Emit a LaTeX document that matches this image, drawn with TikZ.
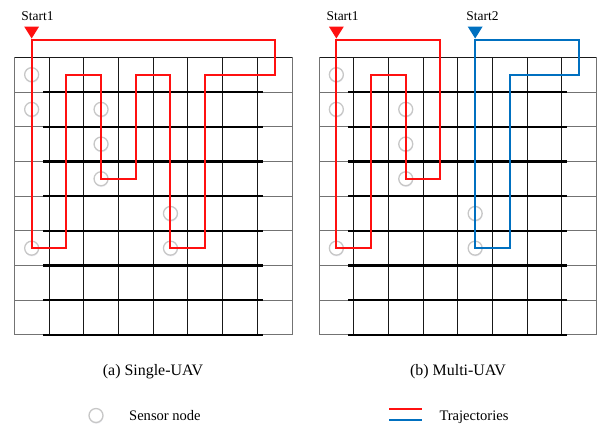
\documentclass[tikz,border=0pt]{standalone}
\usepackage{fontspec}
\setmainfont{Liberation Serif}
\usetikzlibrary{shadows}
\definecolor{uavred}{RGB}{255,16,16}
\definecolor{uavblue}{RGB}{0,112,192}
\begin{document}
\begin{tikzpicture}[x=1bp,y=-1bp,
  gridouter/.style={line width=1bp, black!55},
  gridinner/.style={line width=0.9bp, black!90},
  gridbold/.style={line width=2.4bp, black},
  sensor/.style={circle, draw=black!22, line width=1.3bp, fill=white,
    minimum size=14bp, inner sep=0pt,
    drop shadow={shadow xshift=0.3bp, shadow yshift=-1.3bp, opacity=0.18, fill=blue!30!black!40}},
  redtraj/.style={draw=uavred, line width=2bp},
  bluetraj/.style={draw=uavblue, line width=2bp},
  starttxt/.style={anchor=base west, inner sep=0pt, font=\fontsize{13.5}{15}\selectfont},
  captxt/.style={anchor=base, inner sep=0pt, font=\fontsize{16}{18}\selectfont},
  legtxt/.style={anchor=base west, inner sep=0pt, font=\fontsize{14.6}{17}\selectfont}]
\useasboundingbox (0,0) rectangle (599,425);

% two 8x8 grids with sensor nodes
\foreach \p/\ox in {a/0,b/304.7}{
  \begin{scope}[xshift=\ox bp]
    % thin full-width horizontal lines
    \foreach \r in {1,...,8}
      \draw[gridouter] (14.3,{57.3+34.7*\r}) -- (292,{57.3+34.7*\r});
    \draw[gridinner] (14.3,57.3) -- (292,57.3);
    % vertical lines
    \draw[gridouter] (14.3,57.3) -- (14.3,334.9);
    \draw[gridouter] (292,57.3) -- (292,334.9);
    \foreach \c in {1,...,7}
      \draw[gridinner] ({14.3+34.7*\c},57.3) -- ({14.3+34.7*\c},334.9);
    % bold row separators
    \foreach \r in {1,...,8}
      \draw[gridbold] (43.3,{57.3+34.7*\r}) -- (262.7,{57.3+34.7*\r});
    % cell centres and start points
    \foreach \c in {0,...,7}{
      \coordinate (\p-\c-t) at ({14.3+34.7*(\c+0.5)},40);
      \foreach \r in {0,...,7}
        \coordinate (\p-\c-\r) at ({14.3+34.7*(\c+0.5)},{57.3+34.7*(\r+0.5)});
    }
    % sensor nodes
    \foreach \c/\r in {0/0,0/1,2/1,2/2,2/3,4/4,4/5,0/5}
      \node[sensor] (S\p-\c-\r) at (\p-\c-\r) {};
  \end{scope}
}

% (a) single UAV trajectory
\draw[redtraj] (a-0-t) -- (a-7-t) -- (a-7-0) -- (a-5-0) -- (a-5-5)
  -- (Sa-4-5.center) -- (a-4-0) -- (a-3-0) -- (a-3-3) -- (Sa-2-3.center)
  -- (a-2-0) -- (a-1-0) -- (a-1-5) -- (Sa-0-5.center) -- cycle;
\fill[uavred] ([xshift=-7.5bp,yshift=13.5bp]a-0-t) -- ([xshift=7.5bp,yshift=13.5bp]a-0-t)
  -- ([yshift=1.5bp]a-0-t) -- cycle;
\node[starttxt] (starta1) at ([xshift=-10.5bp,yshift=19.5bp]a-0-t) {Start1};

% (b) two UAV trajectories
\draw[redtraj] (b-0-t) -- (b-3-t) -- (b-3-3) -- (Sb-2-3.center) -- (b-2-0)
  -- (b-1-0) -- (b-1-5) -- (Sb-0-5.center) -- cycle;
\draw[bluetraj] (b-4-t) -- (b-7-t) -- (b-7-0) -- (b-5-0) -- (b-5-5)
  -- (Sb-4-5.center) -- cycle;
\fill[uavred] ([xshift=-7.5bp,yshift=13.5bp]b-0-t) -- ([xshift=7.5bp,yshift=13.5bp]b-0-t)
  -- ([yshift=1.5bp]b-0-t) -- cycle;
\fill[uavblue] ([xshift=-7.5bp,yshift=13.5bp]b-4-t) -- ([xshift=7.5bp,yshift=13.5bp]b-4-t)
  -- ([yshift=1.5bp]b-4-t) -- cycle;
\node[starttxt] (startb1) at ([xshift=-10bp,yshift=19.5bp]b-0-t) {Start1};
\node[starttxt] (startb2) at ([xshift=-9bp,yshift=19.5bp]b-4-t) {Start2};

% captions
\node[captxt] (capa) at (153,375.5) {(a) Single-UAV};
\node[captxt] (capb) at (458,375.5) {(b) Multi-UAV};

% legend
\node[sensor] (legsensor) at (96,415.5) {};
\node[legtxt] (legsensortxt) at (129,420) {Sensor node};
\coordinate (legr1) at (389,409.3);
\coordinate (legr2) at (422.3,409.3);
\coordinate (legb1) at (389,420);
\coordinate (legb2) at (422.3,420);
\draw[redtraj] (legr1) -- (legr2);
\draw[bluetraj] (legb1) -- (legb2);
\node[legtxt] (legtrajtxt) at (439.3,420) {Trajectories};
\end{tikzpicture}
\end{document}
